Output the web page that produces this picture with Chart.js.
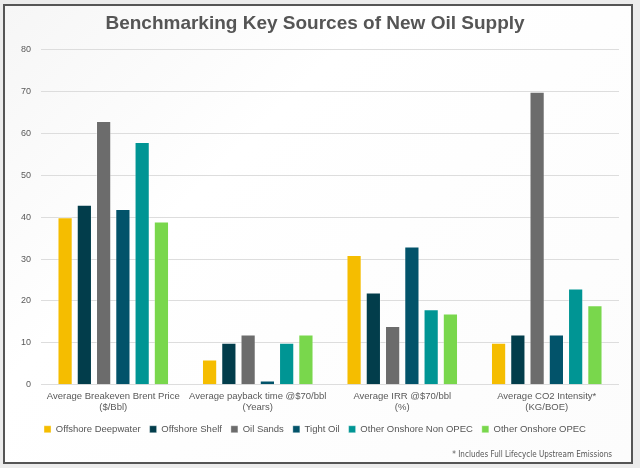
<!DOCTYPE html>
<html>
<head>
<meta charset="utf-8">
<script src="https://cdn.jsdelivr.net/npm/chart.js@4"></script>
<style>
  html, body { margin:0; padding:0; background:#ececec; }
  #wrap { position:relative; width:640px; height:468px; }
  #frame {
    position:absolute; left:3px; top:4px; width:626px; height:456px;
    border:2px solid #555; background:linear-gradient(135deg,#f6f6f6 0%,#ffffff 35%,#fcfcfc 100%);
  }
  canvas { position:absolute; left:0; top:0; }
  #note {
    position:absolute; right:28px; top:450px;
    font-family:"DejaVu Sans Condensed","DejaVu Sans",sans-serif; font-size:8px; color:#555;
  }
</style>
</head>
<body>
<div id="wrap">
  <div id="frame"></div>
  <canvas id="oilChart" width="640" height="468"></canvas>
  <div id="note">* Includes Full Lifecycle Upstream Emissions</div>
</div>
<script>
// data
const categories = [
  ['Average Breakeven Brent Price', '($/Bbl)'],
  ['Average payback time @$70/bbl', '(Years)'],
  ['Average IRR @$70/bbl', '(%)'],
  ['Average CO2 Intensity*', '(KG/BOE)']
];
const offshoreDeepwater = [40, 6, 31, 10];
const offshoreShelf     = [43, 10, 22, 12];
const oilSands          = [63, 12, 14, 70];
const tightOil          = [42, 1, 33, 12];
const otherNonOpec      = [58, 10, 18, 23];
const otherOpec         = [39, 12, 17, 19];
const yTicks = [0, 10, 20, 30, 40, 50, 60, 70, 80];

const COL = {
  yellow: '#f5bd00',
  shelf:  '#023d4b',
  sands:  '#6c6c6c',
  tight:  '#02536a',
  teal:   '#009594',
  green:  '#79d74c'
};

const FONT = "'Liberation Sans', Arial, sans-serif";

function ds(label, data, color) {
  return {
    label: label,
    data: data,
    backgroundColor: color,
    borderColor: 'rgba(255,255,255,0.35)',
    borderWidth: 1,
    barPercentage: 0.79,
    categoryPercentage: 0.8
  };
}

new Chart(document.getElementById('oilChart'), {
  type: 'bar',
  data: {
    labels: categories,
    datasets: [
      ds('Offshore Deepwater', offshoreDeepwater, COL.yellow),
      ds('Offshore Shelf', offshoreShelf, COL.shelf),
      ds('Oil Sands', oilSands, COL.sands),
      ds('Tight Oil', tightOil, COL.tight),
      ds('Other Onshore Non OPEC', otherNonOpec, COL.teal),
      ds('Other Onshore OPEC', otherOpec, COL.green)
    ]
  },
  options: {
    responsive: false,
    animation: false,
    layout: { padding: { top: 6, left: 11, right: 21, bottom: 24 } },
    plugins: {
      title: {
        display: true,
        text: 'Benchmarking Key Sources of New Oil Supply',
        color: '#555555',
        font: { family: FONT, size: 19, weight: 'bold' },
        padding: { top: 6, bottom: 15 }
      },
      legend: {
        position: 'bottom',
        labels: {
          color: '#555555',
          font: { family: FONT, size: 9.5 },
          boxWidth: 7,
          boxHeight: 7,
          padding: 9
        }
      },
      tooltip: { enabled: false }
    },
    scales: {
      y: {
        min: 0,
        max: 80,
        afterBuildTicks: axis => { axis.ticks = yTicks.map(v => ({ value: v })); },
        border: { display: false },
        grid: { color: '#dddddd', lineWidth: 1, drawTicks: false },
        ticks: { color: '#595959', font: { family: FONT, size: 9 }, padding: 10 }
      },
      x: {
        afterFit: scale => { scale.height -= 4; },
        border: { display: false },
        grid: { display: false, drawTicks: false },
        ticks: { color: '#595959', font: { family: FONT, size: 9.5 }, maxRotation: 0, autoSkip: false, padding: 6 }
      }
    }
  }
});
</script>
</body>
</html>
